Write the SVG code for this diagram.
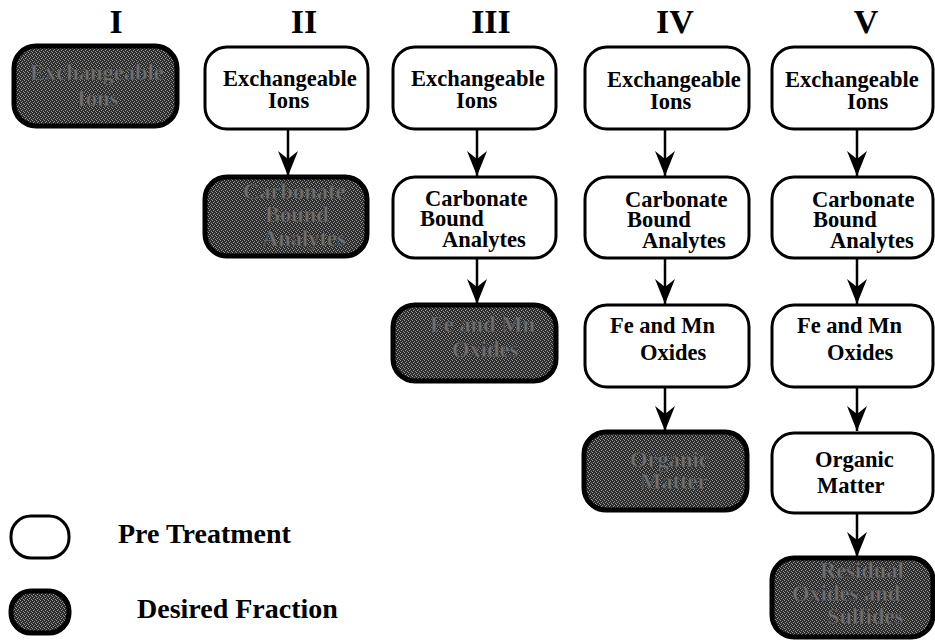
<svg xmlns="http://www.w3.org/2000/svg" width="935" height="641" viewBox="0 0 935 641">
<style>
.hdr{font-family:"Liberation Serif","Times New Roman","DejaVu Serif",serif;font-weight:bold;font-size:34px;fill:#000;text-anchor:middle}
.t{font-family:"Liberation Serif","Times New Roman","DejaVu Serif",serif;font-weight:bold;font-size:22.5px;fill:#000}
.td{font-family:"Liberation Serif","Times New Roman","DejaVu Serif",serif;font-weight:bold;font-size:22.5px;fill:#707070;stroke:#333;stroke-width:0.5}
.lg{font-family:"Liberation Serif","Times New Roman","DejaVu Serif",serif;font-weight:bold;font-size:28px;fill:#000}
.wb{fill:#fff;stroke:#000;stroke-width:3}
.db{fill:url(#stip);stroke:#000;stroke-width:5}
.ar{stroke:#000;stroke-width:2.5;fill:none;marker-end:url(#ah)}
</style>
<defs>
<pattern id="stip" width="4" height="4" patternUnits="userSpaceOnUse">
<rect width="4" height="4" fill="#2c2c2c"/>
<rect x="0" y="0" width="1" height="1" fill="#9a9a9a"/>
<rect x="2" y="1" width="1" height="1" fill="#8a8a8a"/>
<rect x="1" y="2" width="1" height="1" fill="#a0a0a0"/>
<rect x="3" y="3" width="1" height="1" fill="#909090"/>
</pattern>
<marker id="ah" markerUnits="userSpaceOnUse" viewBox="0 -11 26 22" refX="25" refY="0" markerWidth="26" markerHeight="22" orient="auto">
<path d="M0,-10 L25,0 L0,10 L8,0 Z" fill="#000"/>
</marker>
</defs>
<rect width="935" height="641" fill="#fff"/>

<g id="headers">
<text class="hdr" x="116" y="33">I</text>
<text class="hdr" x="304" y="33">II</text>
<text class="hdr" x="491" y="33">III</text>
<text class="hdr" x="675" y="33">IV</text>
<text class="hdr" x="866" y="33">V</text>
</g>

<g id="connectors">
<line class="ar" x1="288" y1="129" x2="288" y2="176"/>
<line class="ar" x1="477" y1="129" x2="477" y2="176"/>
<line class="ar" x1="477" y1="258" x2="477" y2="304"/>
<line class="ar" x1="665" y1="129" x2="665" y2="176"/>
<line class="ar" x1="665" y1="258" x2="665" y2="304"/>
<line class="ar" x1="665" y1="387" x2="665" y2="431"/>
<line class="ar" x1="857" y1="129" x2="857" y2="176"/>
<line class="ar" x1="857" y1="258" x2="857" y2="304"/>
<line class="ar" x1="857" y1="387" x2="857" y2="431"/>
<line class="ar" x1="857" y1="513" x2="857" y2="557"/>
</g>

<g id="I-exch">
<rect class="db" x="14" y="46" width="163" height="80" rx="22"/>
<text class="td" x="30" y="80">Exchangeable</text>
<text class="td" x="77" y="106">Ions</text>
</g>

<g id="II-exch">
<rect class="wb" x="205" y="47" width="163" height="82" rx="22"/>
<text class="t" x="223" y="86">Exchangeable</text>
<text class="t" x="268" y="108">Ions</text>
</g>
<g id="II-carb">
<rect class="db" x="205" y="177" width="162" height="79" rx="22"/>
<text class="td" x="243" y="199">Carbonate</text>
<text class="td" x="265" y="222">Bound</text>
<text class="td" x="262" y="246">Analytes</text>
</g>

<g id="III-exch">
<rect class="wb" x="393" y="47" width="163" height="82" rx="22"/>
<text class="t" x="411" y="86">Exchangeable</text>
<text class="t" x="456" y="108">Ions</text>
</g>
<g id="III-carb">
<rect class="wb" x="393" y="177" width="163" height="81" rx="22"/>
<text class="t" x="425" y="206">Carbonate</text>
<text class="t" x="420" y="226">Bound</text>
<text class="t" x="442" y="247">Analytes</text>
</g>
<g id="III-fe">
<rect class="db" x="393" y="305" width="163" height="76" rx="22"/>
<text class="td" x="430" y="332">Fe and Mn</text>
<text class="td" x="452" y="357">Oxides</text>
</g>

<g id="IV-exch">
<rect class="wb" x="585" y="47" width="164" height="82" rx="22"/>
<text class="t" x="607" y="87">Exchangeable</text>
<text class="t" x="650" y="109">Ions</text>
</g>
<g id="IV-carb">
<rect class="wb" x="585" y="177" width="164" height="81" rx="22"/>
<text class="t" x="625" y="207">Carbonate</text>
<text class="t" x="627" y="227">Bound</text>
<text class="t" x="642" y="248">Analytes</text>
</g>
<g id="IV-fe">
<rect class="wb" x="585" y="305" width="164" height="82" rx="22"/>
<text class="t" x="610" y="333">Fe and Mn</text>
<text class="t" x="640" y="360">Oxides</text>
</g>
<g id="IV-org">
<rect class="db" x="584" y="432" width="163" height="78" rx="22"/>
<text class="td" x="630" y="467">Organic</text>
<text class="td" x="640" y="489">Matter</text>
</g>

<g id="V-exch">
<rect class="wb" x="772" y="47" width="161" height="82" rx="22"/>
<text class="t" x="785" y="87">Exchangeable</text>
<text class="t" x="847" y="109">Ions</text>
</g>
<g id="V-carb">
<rect class="wb" x="772" y="177" width="161" height="81" rx="22"/>
<text class="t" x="812" y="207">Carbonate</text>
<text class="t" x="813" y="227">Bound</text>
<text class="t" x="830" y="248">Analytes</text>
</g>
<g id="V-fe">
<rect class="wb" x="772" y="305" width="161" height="82" rx="22"/>
<text class="t" x="797" y="333">Fe and Mn</text>
<text class="t" x="827" y="360">Oxides</text>
</g>
<g id="V-org">
<rect class="wb" x="772" y="433" width="161" height="80" rx="22"/>
<text class="t" x="815" y="467">Organic</text>
<text class="t" x="817" y="493">Matter</text>
</g>
<g id="V-res">
<rect class="db" x="772" y="558" width="161" height="79" rx="22"/>
<text class="td" x="820" y="578">Residual</text>
<text class="td" x="792" y="601">Oxides and</text>
<text class="td" x="827" y="624">Sulfides</text>
</g>

<g id="legend-pre">
<rect class="wb" x="11" y="516" width="58" height="42" rx="20"/>
<text class="lg" x="118" y="543">Pre Treatment</text>
</g>
<g id="legend-desired">
<rect class="db" x="11" y="591" width="58" height="42" rx="20"/>
<text class="lg" x="137" y="618">Desired Fraction</text>
</g>
</svg>
